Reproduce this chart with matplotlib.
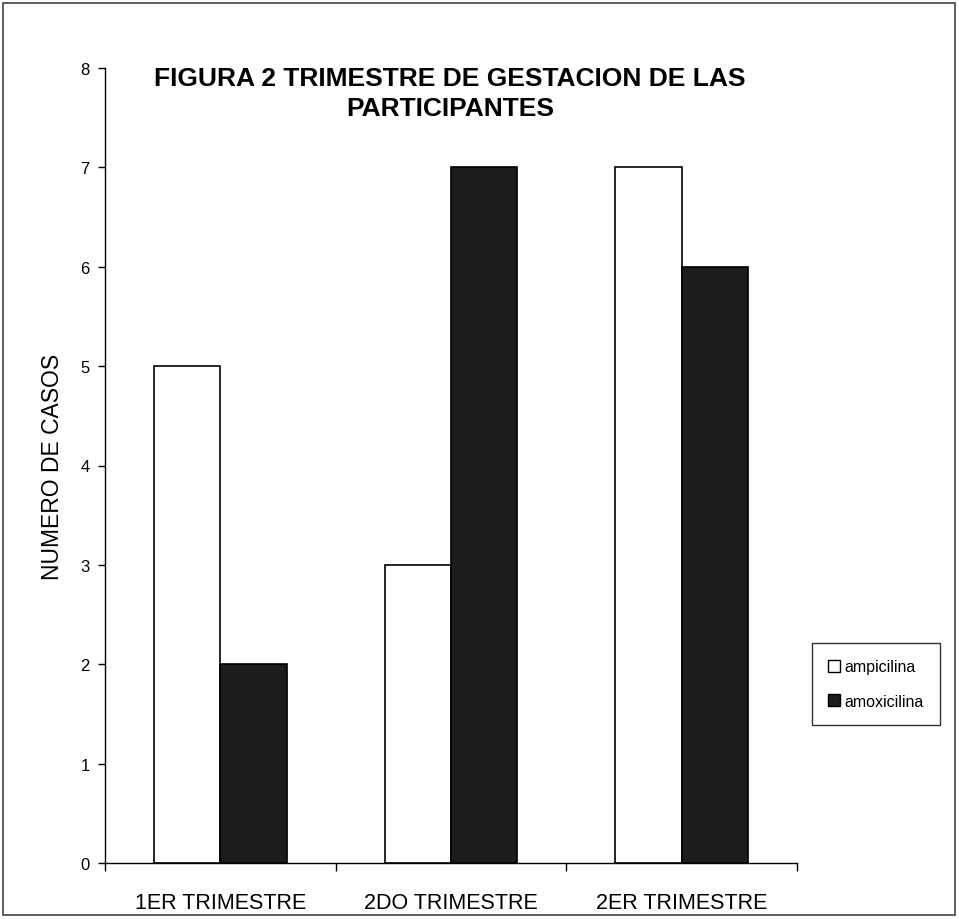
import matplotlib
matplotlib.use("Agg")
import matplotlib.pyplot as plt
from matplotlib.patches import Rectangle, Patch
import numpy as np

categories = ["1ER TRIMESTRE", "2DO TRIMESTRE", "2ER TRIMESTRE"]
ampicilina = [5, 3, 7]
amoxicilina = [2, 7, 6]
yticks = [0, 1, 2, 3, 4, 5, 6, 7, 8]

plt.rcParams['font.family'] = ['Liberation Sans', 'DejaVu Sans']

fig = plt.figure(figsize=(9.59, 9.20), dpi=100)
fig.patch.set_facecolor("white")
ax = fig.add_axes([105/959, 1-864/920, (797-105)/959, (864-69)/920])

x = np.arange(len(categories))
w = 0.287
ax.bar(x - w/2, ampicilina, width=w, color="white", edgecolor="black", linewidth=1.2, label="ampicilina")
ax.bar(x + w/2, amoxicilina, width=w, color="#1c1c1c", edgecolor="black", linewidth=1.2, label="amoxicilina")

ax.set_xlim(-0.5, len(categories) - 0.5)
ax.set_ylim(0, 8)
ax.set_yticks(yticks)
ax.set_yticklabels([str(v) for v in yticks], fontsize=12)
ax.set_xticks(x)
ax.set_xticklabels(categories, fontsize=15.5)
ax.set_xticks(np.arange(-0.5, len(categories), 1.0), minor=True)
ax.tick_params(axis='x', which='major', length=0, pad=21)
ax.tick_params(axis='x', which='minor', length=6, direction='out', width=1)
ax.tick_params(axis='y', length=5, width=1, direction='out', pad=6)
for s in ["top", "right"]:
    ax.spines[s].set_visible(False)
for s in ["left", "bottom"]:
    ax.spines[s].set_linewidth(1)
ax.set_ylabel("NUMERO DE CASOS", fontsize=16.5, labelpad=12)

fig.text(450/959, 1-79/920, "FIGURA 2 TRIMESTRE DE GESTACION DE LAS", ha="center", va="center",
         fontsize=19, fontweight="bold")
fig.text(450/959, 1-109/920, "PARTICIPANTES", ha="center", va="center",
         fontsize=19, fontweight="bold")

handles = [Patch(facecolor="white", edgecolor="black", label="ampicilina"),
           Patch(facecolor="#1c1c1c", edgecolor="black", label="amoxicilina")]
leg = fig.legend(handles=handles, loc="center", bbox_to_anchor=(876/959, 1-685/920),
                 frameon=True, fancybox=False, edgecolor="black", fontsize=11.5,
                 handlelength=0.75, handleheight=0.75, handletextpad=0.3, labelspacing=1.2,
                 borderpad=1.0, borderaxespad=0)
leg.get_frame().set_linewidth(1)

fig.patches.append(Rectangle((3/959, 4/920), 952/959, 912/920, transform=fig.transFigure,
                             fill=False, edgecolor="#444444", linewidth=1.2))

fig.savefig("out.png", dpi=100)
